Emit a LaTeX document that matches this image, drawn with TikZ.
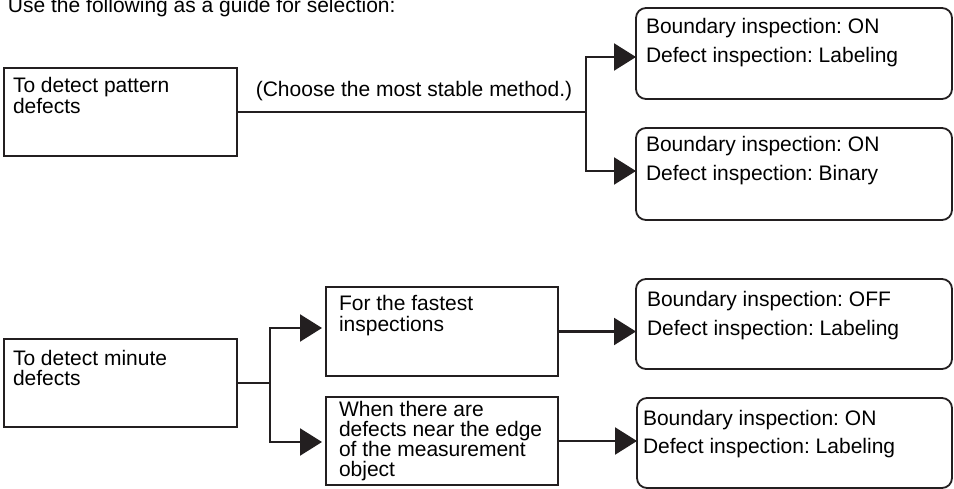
\documentclass[tikz,border=0pt]{standalone}
\usepackage{fontspec}
\setmainfont{Liberation Sans}
\usetikzlibrary{arrows.meta}
\definecolor{ink}{HTML}{231F20}
\newcommand\txtlines[1]{\parbox[t]{300pt}{\raggedright #1}}
\frenchspacing
\begin{document}
\begin{tikzpicture}[x=1pt,y=-1pt,
  rectbox/.style={draw=ink,line width=1.2pt,inner sep=0pt,outer sep=0pt,anchor=north west},
  roundbox/.style={draw=ink,line width=1.8pt,rounded corners=10pt,inner sep=0pt,outer sep=0pt,anchor=north west},
  txt/.style={anchor=base west,inner sep=0pt,outer sep=0pt,text=black,font=\fontsize{21}{20.3}\selectfont\frenchspacing},
  rtxt/.style={txt,font=\fontsize{21}{28.3}\selectfont\frenchspacing},
  conn/.style={draw=ink,line width=2.3pt},
  arr/.style={conn,-{Triangle[length=22pt,width=27pt]}}]
\useasboundingbox (0,0) rectangle (954,489);

% title
\node[txt] (title) at (8,13) {Use the following as a guide for selection:};

% boxes
\node[rectbox,minimum width=233pt,minimum height=88pt] (A) at (4,68) {};
\node[rectbox,minimum width=233pt,minimum height=88pt] (C) at (4,339) {};
\node[rectbox,minimum width=232pt,minimum height=89pt] (D) at (326,287) {};
\node[rectbox,minimum width=232pt,minimum height=88pt] (E) at (326,397) {};
\node[roundbox,minimum width=316pt,minimum height=91pt] (R1) at (636,8) {};
\node[roundbox,minimum width=316pt,minimum height=92pt] (R2) at (636,128) {};
\node[roundbox,minimum width=316pt,minimum height=90pt] (F) at (636,279) {};
\node[roundbox,minimum width=315pt,minimum height=90pt] (G) at (637,398) {};

% texts
\node[txt] (At) at (13,93) {\txtlines{To detect pattern\\defects}};
\node[txt] (Ct) at (13,365) {\txtlines{To detect minute\\defects}};
\node[txt] (Dt) at (339,311) {\txtlines{For the fastest\\inspections}};
\node[txt] (Et) at (339,416) {\txtlines{When there are\\defects near the edge\\of the measurement\\object}};
\node[rtxt] (R1t) at (646,34) {\txtlines{Boundary inspection: ON\\Defect inspection: Labeling}};
\node[rtxt] (R2t) at (646,152) {\txtlines{Boundary inspection: ON\\Defect inspection: Binary}};
\node[rtxt] (Ft) at (647,307) {\txtlines{Boundary inspection: OFF\\Defect inspection: Labeling}};
\node[rtxt] (Gt) at (643,425) {\txtlines{Boundary inspection: ON\\Defect inspection: Labeling}};
\node[txt,anchor=base] (choose) at (414,97) {(Choose the most stable method.)};

% connectors (top)
\coordinate (f1) at (586,112);
\coordinate (t1) at (636,57);
\coordinate (t2) at (636,171);
\draw[conn] (A.east) -- (f1);
\draw[arr] (f1) |- (t1);
\draw[arr] (f1) |- (t2);

% connectors (bottom)
\coordinate (f2) at (270,383);
\coordinate (b1) at (322,328);
\coordinate (b2) at (322,442);
\draw[conn] (C.east) -- (f2);
\draw[arr] (f2) |- (b1);
\draw[arr] (f2) |- (b2);
\draw[arr] (D.east) -- (D.east -| F.west);
\draw[arr] (E.east) -- (E.east -| G.west);
\end{tikzpicture}
\end{document}
